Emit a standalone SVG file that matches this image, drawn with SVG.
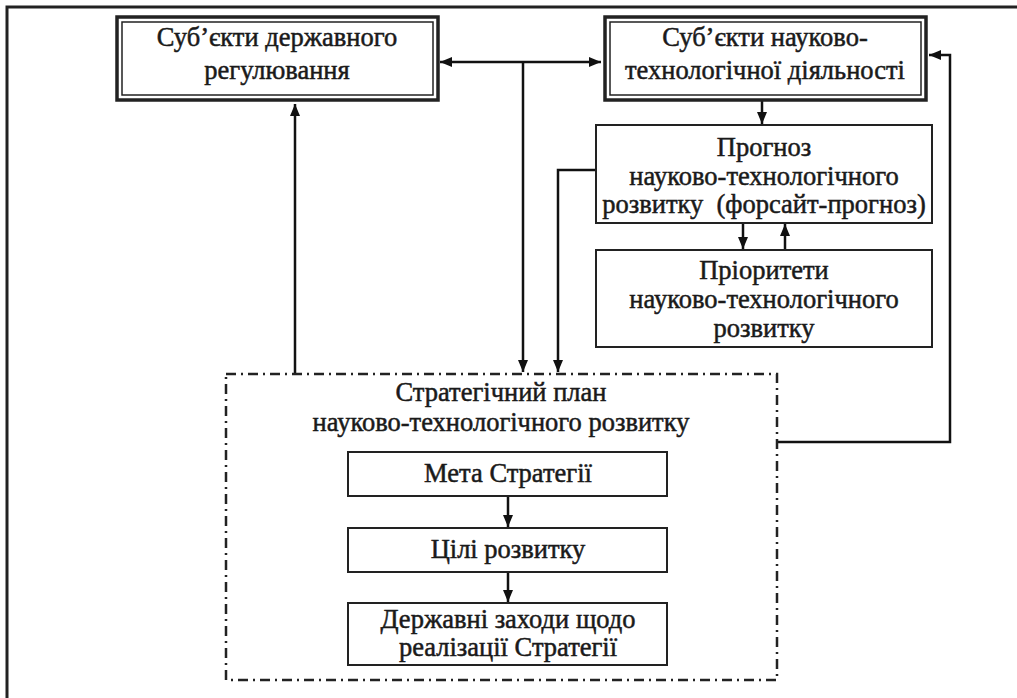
<svg xmlns="http://www.w3.org/2000/svg" width="1017" height="698" viewBox="0 0 1017 698">
<defs>
<marker id="ah" viewBox="0 0 12 10" refX="12" refY="5" markerWidth="12" markerHeight="10" markerUnits="userSpaceOnUse" orient="auto-start-reverse">
<path d="M0,0 L12,5 L0,10 Z" fill="#111"/>
</marker>
<style>
.t{font-family:'Liberation Serif','Times New Roman','DejaVu Serif',serif;font-size:26.5px;fill:#1a1a1a;stroke:#1a1a1a;stroke-width:0.5;text-anchor:middle}
.outer{fill:#fff;stroke:#222;stroke-width:3.5}
.inner{fill:none;stroke:#222;stroke-width:1.5}
.box{fill:#fff;stroke:#222;stroke-width:2}
.dd{fill:none;stroke:#222;stroke-width:2.5;stroke-dasharray:10 5 2 5}
.c{fill:none;stroke:#111;stroke-width:2.5}
.frame{fill:none;stroke:#222;stroke-width:3}
</style>
</defs>
<rect width="1017" height="698" fill="#fff"/>
<path class="frame" d="M7,698 V7 H1017"/>
<g id="connectors">
<path class="c" d="M440,62 H601" marker-start="url(#ah)" marker-end="url(#ah)"/>
<path class="c" d="M523,62 V372" marker-end="url(#ah)"/>
<path class="c" d="M295,373 V104" marker-end="url(#ah)"/>
<path class="c" d="M762,100 V124" marker-end="url(#ah)"/>
<path class="c" d="M595,170 H558 V372" marker-end="url(#ah)"/>
<path class="c" d="M743,223 V249" marker-end="url(#ah)"/>
<path class="c" d="M785,250 V224" marker-end="url(#ah)"/>
<path class="c" d="M777,442 H950 V55 H929" marker-end="url(#ah)"/>
<path class="c" d="M508,496 V527" marker-end="url(#ah)"/>
<path class="c" d="M508,572 V602" marker-end="url(#ah)"/>
</g>
<g id="n-derzh">
<rect class="outer" x="117" y="17" width="321" height="83"/>
<rect class="inner" x="122" y="22" width="311" height="73"/>
<text class="t" x="277" y="46">Суб’єкти державного</text>
<text class="t" x="277" y="79">регулювання</text>
</g>
<g id="n-nauk">
<rect class="outer" x="605" y="17" width="321" height="83"/>
<rect class="inner" x="610" y="22" width="311" height="73"/>
<text class="t" x="765" y="46">Суб’єкти науково-</text>
<text class="t" x="765" y="79">технологічної діяльності</text>
</g>
<g id="n-prognoz">
<rect class="box" x="596" y="125" width="336" height="98"/>
<text class="t" x="764" y="156">Прогноз</text>
<text class="t" x="764" y="185">науково-технологічного</text>
<text class="t" x="764" y="213" xml:space="preserve">розвитку  (форсайт-прогноз)</text>
</g>
<g id="n-priorytety">
<rect class="box" x="596" y="250" width="336" height="97"/>
<text class="t" x="764" y="279">Пріоритети</text>
<text class="t" x="764" y="308">науково-технологічного</text>
<text class="t" x="764" y="337">розвитку</text>
</g>
<g id="n-plan">
<rect class="dd" x="226" y="374" width="551" height="306"/>
<text class="t" x="501" y="401">Стратегічний план</text>
<text class="t" x="501" y="431">науково-технологічного розвитку</text>
</g>
<g id="n-meta">
<rect class="box" x="348" y="452" width="319" height="44"/>
<text class="t" x="508" y="482">Мета Стратегії</text>
</g>
<g id="n-tsili">
<rect class="box" x="348" y="528" width="319" height="44"/>
<text class="t" x="508" y="558">Цілі розвитку</text>
</g>
<g id="n-zakhody">
<rect class="box" x="348" y="603" width="319" height="62"/>
<text class="t" x="508" y="628">Державні заходи щодо</text>
<text class="t" x="508" y="656">реалізації Стратегії</text>
</g>
</svg>
